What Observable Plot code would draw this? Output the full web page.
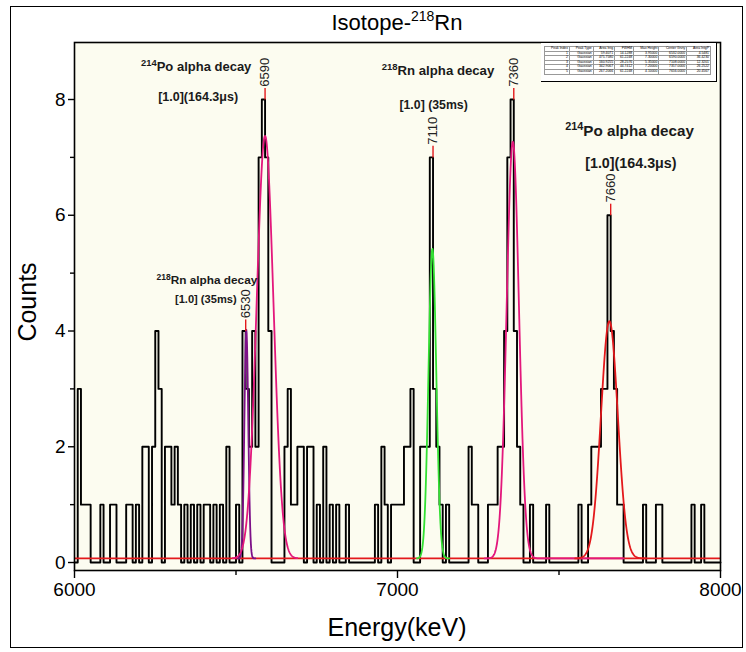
<!DOCTYPE html>
<html><head><meta charset="utf-8">
<script src="https://cdn.jsdelivr.net/npm/d3@7"></script>
<script src="https://cdn.jsdelivr.net/npm/@observablehq/plot@0.6"></script>
<style>
body{margin:0;background:#fff;font-family:"Liberation Sans",Arial,sans-serif;}
#fig{position:relative;width:746px;height:652px;overflow:hidden;background:#fff;}
#frame{position:absolute;left:10px;top:6px;width:733px;height:642px;border:1.5px solid #000;box-sizing:border-box;}
#title{position:absolute;left:0;width:794px;text-align:center;top:9px;font-size:22px;line-height:28px;color:#000;}
#title sup{font-size:14px;vertical-align:0;position:relative;top:-9px;}
#chart{position:absolute;left:0;top:30px;}
#xlabel{position:absolute;left:0;width:794px;text-align:center;top:612px;font-size:25px;line-height:30px;}
#ylabel{position:absolute;left:27px;top:302px;font-size:25px;line-height:30px;transform:translate(-50%,-50%) rotate(-90deg);white-space:nowrap;}
#fittable{position:absolute;left:541px;top:43px;width:176px;height:39px;border-right:1.5px solid #000;border-bottom:1.5px solid #000;box-sizing:border-box;background:#fff;}
#fittable table{position:absolute;left:3px;top:3px;width:167px;border-collapse:collapse;font-size:3.4px;line-height:3.6px;}
#fittable td{border:0.4px solid #999;padding:0 1px;text-align:right;white-space:nowrap;}
</style></head>
<body>
<div id="fig">
  <div id="frame"></div>
  <div id="title">Isotope-<sup>218</sup>Rn</div>
  <div id="chart"></div>
  <div id="xlabel">Energy(keV)</div>
  <div id="ylabel">Counts</div>
  <div id="fittable"></div>
</div>
<script>
// ---------- data ----------
const binStartKeV = 6000;
const binWidthKeV = 10;
const counts = [
 0,3,1,1,1,0,0,0,1,0,   // 6000-6090
 0,1,1,0,0,0,1,1,0,1,   // 6100-6190
 0,2,2,0,2,4,3,0,2,2,   // 6200-6290
 1,2,1,0,1,0,1,0,1,0,   // 6300-6390
 1,1,0,1,0,1,0,2,0,0,   // 6400-6490
 1,0,4,3,2,4,2,7,8,7,   // 6500-6590
 4,0,0,0,0,2,3,1,1,2,   // 6600-6690
 2,0,2,2,0,1,0,2,0,1,   // 6700-6790
 0,1,0,0,1,0,0,0,0,0,   // 6800-6890
 0,0,0,1,0,2,1,0,1,1,   // 6900-6990
 1,1,2,2,3,0,0,2,2,2,   // 7000-7090
 7,3,2,1,0,1,0,0,0,0,   // 7100-7190
 0,0,2,1,1,0,0,0,1,1,   // 7200-7290
 1,2,2,4,7,8,4,2,1,0,   // 7300-7390
 0,1,0,0,0,0,1,0,0,0,   // 7400-7490
 0,0,0,0,0,0,1,0,0,1,   // 7500-7590
 2,2,2,3,3,6,4,3,1,1,   // 7600-7690
 0,0,0,0,0,0,1,0,0,0,   // 7700-7790
 1,1,0,0,0,0,0,0,0,0,   // 7800-7890
 0,1,0,0,1,0,0,0,0,0    // 7900-7990
];

// Gaussian fits (Origin peak analyzer)
const fitCenters = [6532, 6590, 7108, 7357, 7656];
const fitHeights = [3.95, 7.3, 5.35, 7.2, 4.1];
const fitSigmas  = [6, 26, 12, 19, 26];
const fitFrom    = [6505, 6490, 7060, 7270, 7550];
const fitTo      = [6560, 6690, 7160, 7700, 7770];
const fitOffset  = 0.07;

// peak markers
const peakLabels = [6530, 6590, 7110, 7360, 7660];
const peakTops   = [4, 8, 7, 8, 6];

// annotations
const noteTexts = ["^214|Po alpha decay", "[1.0](164.3μs)", "^218|Rn alpha decay", "[1.0] (35ms)",
                   "^218|Rn alpha decay", "[1.0] (35ms)", "^214|Po alpha decay", "[1.0](164.3μs)"];
const noteX = [6206, 6259, 6254, 6311, 6951, 7006, 7519, 7581];
const noteY = [8.57, 8.05, 4.87, 4.54, 8.49, 7.91, 7.46, 6.90];

// axis ticks
const xMajor = [6000, 7000, 8000];
const xMinor = [6500, 7500];
const yMajor = [0, 2, 4, 6, 8];
const yMinor = [1, 3, 5, 7];

// ---------- styles ----------
const fitColors = ["#7d0f88", "#e3177c", "#33e033", "#e3177c", "#e3191c"];
const noteSizes = [13, 12.5, 11.8, 11.1, 13.2, 12.3, 15.2, 14.3];
const red = "#e3191c";

// ---------- build tables ----------
const hist = counts.map((c, i) => ({e: binStartKeV + i * binWidthKeV, c}));
hist.push({e: binStartKeV + counts.length * binWidthKeV, c: counts[counts.length - 1]});

const fitPts = [];
fitCenters.forEach((c, k) => {
  for (let e = fitFrom[k]; e <= fitTo[k]; e += 1) {
    fitPts.push({k, e, y: fitOffset + fitHeights[k] * Math.exp(-((e - c) ** 2) / (2 * fitSigmas[k] ** 2))});
  }
});
const peaks = peakLabels.map((e, i) => ({e, c: peakTops[i]}));
const notes = noteTexts.map((t, i) => ({t, x: noteX[i], y: noteY[i], s: noteSizes[i]}));

const plot = Plot.plot({
  width: 746, height: 610,
  marginTop: 12, marginBottom: 70, marginLeft: 74, marginRight: 26,
  style: {fontFamily: "'Liberation Sans', Arial, sans-serif", fontSize: "19px", background: "transparent", color: "#000"},
  x: {domain: [6000, 8000]},
  y: {domain: [-0.138, 8.985]},
  marks: [
    Plot.frame({fill: "#fcfcf0"}),
    Plot.line(hist, {x: "e", y: "c", curve: "step-after", stroke: "#000", strokeWidth: 1.9}),
    Plot.ruleY([fitOffset], {x1: 6000, x2: 8000, stroke: red, strokeWidth: 1.7}),
    Plot.line(fitPts, {x: "e", y: "y", z: "k", stroke: d => fitColors[d.k], strokeWidth: 1.8}),
    Plot.link(peaks, {x1: "e", x2: "e", y1: "c", y2: d => d.c + 0.2, stroke: red, strokeWidth: 1.4}),
    Plot.text(peaks, {x: "e", y: d => d.c + 0.22, text: d => String(d.e), rotate: -90, textAnchor: "start", fontSize: 13, fill: "#222"}),
    Plot.text(notes, {x: "x", y: "y", text: "t", textAnchor: "start", fontSize: d => d.s, fontWeight: "bold", fill: "#1a1a1a"}),
    Plot.frame({stroke: "#000", strokeWidth: 1.6}),
    Plot.axisX({ticks: xMajor, tickSize: 8, tickPadding: 4, tickFormat: d => String(d), fontSize: 19, label: null, strokeWidth: 1.4}),
    Plot.axisX({ticks: xMinor, tickSize: 5, tickFormat: () => "", label: null, strokeWidth: 1.4}),
    Plot.axisY({ticks: yMajor, tickSize: 6, tickPadding: 3, tickFormat: d => String(d), fontSize: 19, label: null, strokeWidth: 1.4}),
    Plot.axisY({ticks: yMinor, tickSize: 4, tickFormat: () => "", label: null, strokeWidth: 1.4})
  ]
});

// superscripts in annotation text
d3.select(plot).selectAll("text").each(function() {
  const t = this.textContent;
  const m = t.match(/^\^(\d+)\|(.*)$/);
  if (m) {
    const fs = parseFloat(getComputedStyle(this).fontSize) || parseFloat(this.getAttribute("font-size")) || 13;
    this.textContent = "";
    const s = d3.select(this);
    s.append("tspan").attr("font-size", (fs * 0.72).toFixed(1)).attr("dy", -(fs * 0.38).toFixed(1)).text(m[1]);
    s.append("tspan").attr("dy", (fs * 0.38).toFixed(1)).text(m[2]);
  }
});
document.getElementById("chart").appendChild(plot);

// fit results table
const tbl = d3.select("#fittable").append("table");
const head = ["Peak Index", "Peak Type", "Area Intg", "FWHM", "Max Height", "Center Grvty", "Area IntgP"];
tbl.append("tr").selectAll("td").data(head).join("td").text(d => d);
const totalArea = d3.sum(fitHeights.map((h, k) => h * fitSigmas[k] * Math.sqrt(2 * Math.PI)));
fitCenters.forEach((c, k) => {
  const area = fitHeights[k] * fitSigmas[k] * Math.sqrt(2 * Math.PI);
  tbl.append("tr").selectAll("td").data([String(k + 1), "Gaussian", area.toFixed(4), (2.3548 * fitSigmas[k]).toFixed(4),
    fitHeights[k].toFixed(5), c.toFixed(4), (100 * area / totalArea).toFixed(4)]).join("td").text(d => d);
});
</script>
</body></html>
